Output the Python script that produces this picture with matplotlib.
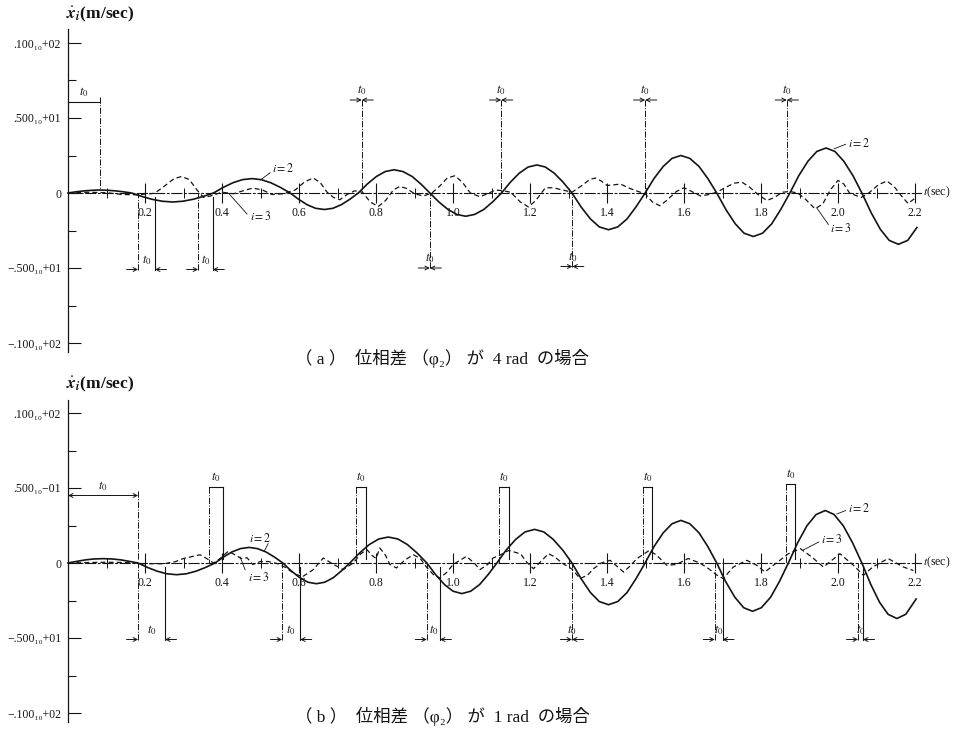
import matplotlib.pyplot as plt

plt.rcParams['font.family'] = ['Liberation Serif', 'DejaVu Serif', 'Noto Sans CJK JP']
plt.rcParams['mathtext.fontset'] = 'stix'

ink = '#141414'

# --- axes ticks / labels ---
x_major = [0.2, 0.4, 0.6, 0.8, 1.0, 1.2, 1.4, 1.6, 1.8, 2.0, 2.2]
x_labels = ['0.2', '0.4', '0.6', '0.8', '1.0', '1.2', '1.4', '1.6', '1.8', '2.0', '2.2']
x_minor = [0.1, 0.3, 0.5, 0.7, 0.9, 1.1, 1.3, 1.5, 1.7, 1.9, 2.1]
y_major = [-10, -5, 0, 5, 10]
y_minor = [-7.5, -2.5, 2.5, 7.5]
a_ylabels = ['\u2212.100\u2081\u2080+02', '\u2212.500\u2081\u2080+01', '0',
             '.500\u2081\u2080+01', '.100\u2081\u2080+02']
b_ylabels = ['\u2212.100\u2081\u2080+02', '\u2212.500\u2081\u2080+01', '0',
             '.500\u2081\u2080\u221201', '.100\u2081\u2080+02']
captions = ['（ a ）  位相差 （φ\u2082） が  4 rad  の場合',
            '（ b ）  位相差 （φ\u2082） が  1 rad  の場合']

# --- (a) phase difference 4 rad ---
a_i2_t = [0.000, 0.021, 0.041, 0.062, 0.083, 0.103, 0.124, 0.144,
          0.165, 0.192, 0.218, 0.245, 0.272, 0.298, 0.325, 0.351,
          0.378, 0.403, 0.428, 0.453, 0.478, 0.502, 0.527, 0.552,
          0.577, 0.599, 0.621, 0.643, 0.666, 0.688, 0.710, 0.732,
          0.754, 0.777, 0.801, 0.824, 0.847, 0.870, 0.894, 0.917,
          0.940, 0.963, 0.987, 1.010, 1.033, 1.056, 1.080, 1.103,
          1.126, 1.149, 1.172, 1.195, 1.218, 1.240, 1.263, 1.286,
          1.309, 1.333, 1.357, 1.380, 1.404, 1.428, 1.452, 1.475,
          1.499, 1.522, 1.546, 1.569, 1.592, 1.615, 1.639, 1.662,
          1.685, 1.709, 1.733, 1.756, 1.780, 1.804, 1.828, 1.851,
          1.875, 1.898, 1.922, 1.945, 1.969, 1.992, 2.015, 2.039,
          2.062, 2.086, 2.110, 2.133, 2.157, 2.181, 2.205]
a_i2_v = [0.00, 0.08, 0.14, 0.18, 0.20, 0.18, 0.14, 0.08,
          0.00, -0.23, -0.42, -0.55, -0.60, -0.55, -0.42, -0.23,
          0.00, 0.37, 0.68, 0.89, 0.96, 0.89, 0.68, 0.37,
          0.00, -0.42, -0.78, -1.02, -1.10, -1.02, -0.78, -0.42,
          0.00, 0.59, 1.10, 1.43, 1.55, 1.43, 1.10, 0.59,
          0.00, -0.59, -1.10, -1.43, -1.55, -1.43, -1.10, -0.59,
          0.00, 0.72, 1.32, 1.73, 1.87, 1.73, 1.32, 0.72,
          0.00, -0.94, -1.73, -2.26, -2.45, -2.26, -1.73, -0.94,
          0.00, 0.96, 1.77, 2.31, 2.50, 2.31, 1.77, 0.96,
          0.00, -1.11, -2.05, -2.68, -2.90, -2.68, -2.05, -1.11,
          0.00, 1.15, 2.12, 2.77, 3.00, 2.77, 2.12, 1.15,
          0.00, -1.31, -2.42, -3.16, -3.42, -3.16, -2.30]
a_i3_t = [0.00, 0.05, 0.10, 0.14, 0.18, 0.225, 0.25, 0.275, 0.295, 0.315,
          0.335, 0.352, 0.37, 0.40, 0.43, 0.455, 0.48, 0.505, 0.53, 0.56,
          0.59, 0.615, 0.637, 0.655, 0.673, 0.69, 0.706, 0.725, 0.745, 0.765,
          0.785, 0.806, 0.825, 0.845, 0.862, 0.88, 0.90, 0.923, 0.945, 0.965,
          0.985, 1.005, 1.025, 1.045, 1.07, 1.09, 1.11, 1.13, 1.15, 1.175,
          1.196, 1.215, 1.24, 1.26, 1.285, 1.309, 1.335, 1.355, 1.37, 1.385,
          1.40, 1.42, 1.435, 1.455, 1.475, 1.499, 1.518, 1.537, 1.555, 1.58,
          1.60, 1.62, 1.643, 1.665, 1.685, 1.71, 1.73, 1.75, 1.77, 1.79,
          1.815, 1.835, 1.855, 1.875, 1.895, 1.915, 1.94, 1.96, 1.98, 2.00,
          2.015, 2.03, 2.06, 2.08, 2.105, 2.127, 2.145, 2.165, 2.182, 2.20]
a_i3_v = [0.00, 0.05, 0.02, -0.10, -0.12, -0.02, 0.45, 0.95, 1.10, 0.90,
          0.20, -0.30, -0.20, 0.05, -0.05, 0.15, 0.33, 0.20, -0.10, -0.05,
          0.20, 0.75, 1.00, 0.70, 0.05, -0.30, -0.45, -0.10, 0.15, 0.05,
          -0.60, -0.90, -0.50, 0.20, 0.44, 0.30, -0.05, -0.20, 0.00, 0.45,
          1.00, 1.15, 0.70, 0.00, -0.25, -0.05, 0.20, 0.15, 0.05, -0.60,
          -0.93, -0.50, 0.35, 0.35, 0.20, 0.05, 0.50, 0.90, 1.00, 0.80,
          0.50, 0.55, 0.60, 0.35, 0.15, -0.05, -0.60, -0.85, -0.50, 0.10,
          0.35, 0.10, -0.20, -0.10, 0.05, 0.40, 0.65, 0.73, 0.40, -0.05,
          -0.50, -0.30, 0.05, 0.10, 0.00, -0.40, -1.05, -0.75, 0.20, 0.84,
          0.60, 0.00, -0.30, 0.00, 0.55, 0.80, 0.45, -0.20, -0.70, -0.35]

# --- (b) phase difference 1 rad ---
b_i2_t = [0.000, 0.023, 0.046, 0.068, 0.091, 0.114, 0.137, 0.159,
          0.182, 0.207, 0.232, 0.257, 0.282, 0.307, 0.332, 0.357,
          0.382, 0.404, 0.426, 0.448, 0.470, 0.492, 0.514, 0.536,
          0.558, 0.580, 0.602, 0.623, 0.645, 0.667, 0.689, 0.710,
          0.732, 0.757, 0.782, 0.807, 0.832, 0.857, 0.882, 0.907,
          0.932, 0.955, 0.978, 1.000, 1.023, 1.046, 1.069, 1.091,
          1.114, 1.138, 1.163, 1.187, 1.212, 1.236, 1.260, 1.285,
          1.309, 1.333, 1.357, 1.380, 1.404, 1.428, 1.452, 1.475,
          1.499, 1.522, 1.546, 1.569, 1.592, 1.615, 1.639, 1.662,
          1.685, 1.708, 1.732, 1.755, 1.778, 1.801, 1.825, 1.848,
          1.871, 1.895, 1.919, 1.943, 1.967, 1.990, 2.014, 2.038,
          2.062, 2.085, 2.108, 2.130, 2.153, 2.176, 2.203]
b_i2_v = [0.00, 0.11, 0.21, 0.27, 0.29, 0.27, 0.21, 0.11,
          0.00, -0.30, -0.55, -0.72, -0.78, -0.72, -0.55, -0.30,
          0.00, 0.40, 0.74, 0.96, 1.04, 0.96, 0.74, 0.40,
          0.00, -0.53, -0.98, -1.28, -1.38, -1.28, -0.98, -0.53,
          0.00, 0.66, 1.22, 1.60, 1.73, 1.60, 1.22, 0.66,
          0.00, -0.78, -1.44, -1.88, -2.04, -1.88, -1.44, -0.78,
          0.00, 0.86, 1.58, 2.07, 2.24, 2.07, 1.58, 0.86,
          0.00, -1.06, -1.97, -2.57, -2.78, -2.57, -1.97, -1.06,
          0.00, 1.09, 2.01, 2.62, 2.84, 2.62, 2.01, 1.09,
          0.00, -1.23, -2.28, -2.98, -3.22, -2.98, -2.28, -1.23,
          0.00, 1.34, 2.47, 3.23, 3.50, 3.23, 2.47, 1.34,
          0.00, -1.42, -2.62, -3.42, -3.70, -3.42, -2.40]
b_i3_t = [0.00, 0.05, 0.10, 0.15, 0.20, 0.25, 0.28, 0.30, 0.343, 0.36,
          0.378, 0.395, 0.416, 0.43, 0.45, 0.465, 0.48, 0.50, 0.52, 0.545,
          0.565, 0.59, 0.61, 0.637, 0.663, 0.69, 0.715, 0.741, 0.76, 0.776,
          0.79, 0.80, 0.81, 0.825, 0.836, 0.853, 0.875, 0.897, 0.915, 0.932,
          0.95, 0.966, 0.985, 1.00, 1.035, 1.055, 1.07, 1.09, 1.104, 1.12,
          1.145, 1.176, 1.19, 1.209, 1.228, 1.248, 1.265, 1.283, 1.309, 1.33,
          1.35, 1.365, 1.385, 1.408, 1.425, 1.443, 1.46, 1.478, 1.51, 1.53,
          1.555, 1.58, 1.611, 1.641, 1.665, 1.685, 1.702, 1.728, 1.763, 1.789,
          1.81, 1.84, 1.871, 1.902, 1.932, 1.962, 1.985, 2.005, 2.04, 2.066,
          2.09, 2.13, 2.17, 2.196]
b_i3_v = [0.00, 0.03, 0.05, 0.03, -0.05, -0.05, 0.10, 0.30, 0.55, 0.30,
          0.00, 0.30, 0.78, 0.60, 0.30, 0.35, -0.10, 0.10, 0.10, -0.05,
          -0.30, -0.75, -0.90, -0.44, 0.33, -0.10, -0.44, 0.00, 0.60, 0.90,
          0.50, 0.30, 1.00, 0.50, -0.10, -0.33, 0.20, 0.55, 0.30, -0.30,
          -0.80, -1.00, -0.60, -0.10, 0.44, 0.00, -0.44, -0.10, 0.33, 0.50,
          0.84, 0.60, 0.10, -0.38, 0.10, 0.62, 0.40, 0.00, -0.40, -1.04,
          -0.80, -0.38, 0.00, 0.18, -0.20, -0.60, -0.20, 0.30, 0.84, 0.50,
          -0.15, -0.10, 0.30, 0.00, -0.40, -0.80, -1.04, -0.27, 0.18, -0.15,
          -0.60, 0.00, 0.62, 0.96, 0.40, -0.27, 0.20, 0.62, -0.15, -0.82,
          -0.27, 0.30, -0.27, -0.50]

# t0 markers: (t_left, t_right, level)
a_span = (0.083, 6.1)
a_marks = [(0.763, 0.763, 6.2), (1.125, 1.125, 6.2), (1.499, 1.499, 6.2),
           (1.867, 1.867, 6.2), (0.182, 0.226, -5.1), (0.338, 0.376, -5.1),
           (0.940, 0.940, -5.0), (1.310, 1.310, -4.9)]
b_span = (0.182, 4.5)
b_marks = [(0.366, 0.403, 5.1), (0.748, 0.774, 5.1), (1.120, 1.145, 5.1),
           (1.493, 1.517, 5.1), (1.865, 1.888, 5.3), (0.182, 0.252, -5.1),
           (0.556, 0.603, -5.1), (0.932, 0.966, -5.1), (1.309, 1.309, -5.1),
           (1.680, 1.700, -5.1), (2.052, 2.065, -5.1)]

# curve labels: (text, text_t, text_v, leader t0, v0, t1, v1)
a_curve_labels = [('$i=2$', 0.53, 1.6, 0.50, 0.87, 0.525, 1.35),
                  ('$i=3$', 0.473, -1.6, 0.42, -0.1, 0.465, -1.4),
                  ('$i=2$', 2.025, 3.3, 1.99, 2.95, 2.02, 3.25),
                  ('$i=3$', 1.98, -2.4, 1.945, -1.0, 1.975, -2.1)]
b_curve_labels = [('$i=2$', 0.47, 1.6, 0.51, 0.8, 0.52, 1.3),
                  ('$i=3$', 0.468, -0.95, 0.447, 0.4, 0.46, -0.45),
                  ('$i=2$', 2.025, 3.6, 1.997, 3.27, 2.02, 3.5),
                  ('$i=3$', 1.955, 1.55, 1.91, 0.87, 1.95, 1.4)]

W, H = 969, 731
fig = plt.figure(figsize=(W / 100, H / 100), dpi=100)


def panel(top_px, bot_px, zero_px, ylabels):
    ax = fig.add_axes([0, 1 - bot_px / H, 1, (bot_px - top_px) / H])
    ax.patch.set_visible(False)
    ax.set_xlim(-68 / 385, (W - 68) / 385)
    ax.set_ylim(-(bot_px - zero_px) / 15, (zero_px - top_px) / 15)
    for s in ['top', 'right']:
        ax.spines[s].set_visible(False)
    ax.spines['left'].set_position(('data', 0))
    ax.spines['left'].set_bounds(-10.6, 10.9)
    ax.spines['left'].set_linewidth(0.9)
    ax.spines['bottom'].set_position(('data', 0))
    ax.spines['bottom'].set_bounds(0, 2.215)
    ax.spines['bottom'].set_linewidth(0.8)
    ax.spines['bottom'].set_linestyle((0, (9, 2.5, 1.5, 2.5)))
    for sp in ax.spines.values():
        sp.set_color(ink)
    ax.set_xticks(x_major)
    ax.set_xticklabels(x_labels)
    ax.set_xticks(x_minor, minor=True)
    ax.set_yticks(y_major)
    ax.set_yticklabels(ylabels)
    ax.set_yticks(y_minor, minor=True)
    ax.tick_params(axis='x', which='major', direction='inout', length=14,
                   width=0.8, pad=3, labelsize=8.5, colors=ink)
    ax.tick_params(axis='x', which='minor', direction='inout', length=7,
                   width=0.7, colors=ink)
    ax.tick_params(axis='y', which='major', direction='in', length=9,
                   width=0.8, pad=5, labelsize=8.5, colors=ink)
    ax.tick_params(axis='y', which='minor', direction='in', length=6,
                   width=0.8, colors=ink)
    ax.text(-0.006, 11.9, r'$\dot{\mathbfit{x}}_{\mathbfit{i}}$(m/sec)',
            fontsize=12.5, fontweight='bold', ha='left', va='center', color=ink)
    ax.text(2.22, 0.05, '$t$(sec)', fontsize=8.5, ha='left', va='center',
            color=ink)
    return ax


def arrow(ax, x0, x1, y, style='->'):
    ax.annotate('', xy=(x1, y), xytext=(x0, y),
                arrowprops=dict(arrowstyle=style, lw=0.7, color=ink,
                                shrinkA=0, shrinkB=0, mutation_scale=7))


def marks(ax, span, items, box_top):
    # t0 measured from the origin
    ts, lev = span
    if box_top:
        arrow(ax, 0, ts, lev, '<->')
    else:
        ax.plot([0, ts], [lev, lev], color=ink, lw=0.8)
    ax.plot([ts, ts], [lev + 0.3, 0.3], color=ink, lw=0.7, ls='-.')
    ax.text(ts / 2, lev + 0.6, '$t_0$', fontsize=9, ha='center',
            va='center', color=ink)
    for t1, t2, lev in items:
        up = lev > 0
        ax.plot([t1, t1], [lev, 0], color=ink, lw=0.7, ls='-.')
        if t2 != t1:
            ax.plot([t2, t2], [lev, 0.25 * lev / abs(lev)], color=ink,
                    lw=0.8)
        if up and box_top:
            ax.plot([t1, t2], [lev, lev], color=ink, lw=0.8)
        else:
            arrow(ax, t1 - 0.03, t1, lev)
            arrow(ax, t2 + 0.03, t2, lev)
        ax.text((t1 + t2) / 2, lev + 0.65, '$t_0$', fontsize=9,
                ha='center', va='center', color=ink)


def curve_labels(ax, items):
    for txt, tx, ty, l0, v0, l1, v1 in items:
        ax.plot([l0, l1], [v0, v1], color=ink, lw=0.6)
        ax.text(tx, ty, txt, fontsize=8.5, ha='left', va='center', color=ink)


ax_a = panel(0, 366, 193, a_ylabels)
ax_a.plot(a_i2_t, a_i2_v, color=ink, lw=1.2)
ax_a.plot(a_i3_t, a_i3_v, color=ink, lw=0.9, ls=(0, (4, 2.5)))
marks(ax_a, a_span, a_marks, box_top=False)
curve_labels(ax_a, a_curve_labels)
ax_a.text(0.59, -11.0, captions[0], fontsize=12.5, ha='left', va='center',
          color=ink)

ax_b = panel(366, 731, 563, b_ylabels)
ax_b.plot(b_i2_t, b_i2_v, color=ink, lw=1.2)
ax_b.plot(b_i3_t, b_i3_v, color=ink, lw=0.9, ls=(0, (4, 2.5)))
marks(ax_b, b_span, b_marks, box_top=True)
curve_labels(ax_b, b_curve_labels)
ax_b.text(0.59, -10.2, captions[1], fontsize=12.5, ha='left', va='center',
          color=ink)

fig.savefig('out.png', dpi=100)
